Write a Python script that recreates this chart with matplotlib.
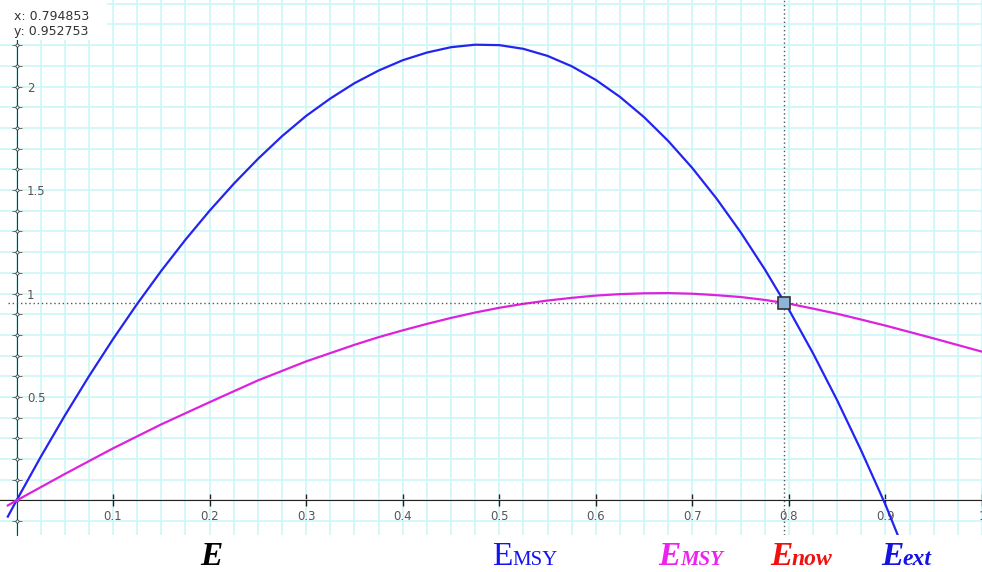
import matplotlib
matplotlib.use('Agg')
import matplotlib.pyplot as plt
import numpy as np
from matplotlib.patches import Rectangle
from matplotlib.ticker import MultipleLocator

# values
blue_x = [-0.009, 0, 0.025, 0.05, 0.075, 0.1, 0.125, 0.15, 0.175, 0.2, 0.225, 0.25,
          0.275, 0.3, 0.325, 0.35, 0.375, 0.4, 0.425, 0.45, 0.475, 0.5, 0.525, 0.55,
          0.575, 0.6, 0.625, 0.65, 0.675, 0.7, 0.725, 0.75, 0.775, 0.8, 0.825, 0.85,
          0.875, 0.9, 0.913]
blue_y = [-0.078, 0, 0.21, 0.41, 0.60, 0.78, 0.95, 1.11, 1.26, 1.40, 1.53, 1.65,
          1.76, 1.858, 1.942, 2.016, 2.077, 2.127, 2.164, 2.19, 2.202, 2.20, 2.182, 2.148,
          2.098, 2.032, 1.950, 1.852, 1.737, 1.606, 1.459, 1.296, 1.117, 0.922, 0.711, 0.484,
          0.240, -0.020, -0.17]

mag_x = [-0.009, 0, 0.05, 0.1, 0.15, 0.2, 0.25, 0.3, 0.35, 0.375, 0.4, 0.425, 0.45,
         0.475, 0.5, 0.525, 0.55, 0.575, 0.6, 0.625, 0.65, 0.675, 0.7, 0.725, 0.75,
         0.775, 0.8, 0.825, 0.85, 0.875, 0.9, 0.925, 0.95, 0.975, 1.0]
mag_y = [-0.024, 0, 0.128, 0.252, 0.368, 0.475, 0.58, 0.672, 0.752, 0.789, 0.822,
         0.853, 0.882, 0.908, 0.931, 0.95, 0.966, 0.979, 0.99, 0.997, 1.001, 1.002,
         0.999, 0.992, 0.983, 0.969, 0.951, 0.927, 0.902, 0.874, 0.845, 0.814, 0.783,
         0.751, 0.719]

cur_x = 0.794853
cur_y = 0.952753

x_ticks = [0.1, 0.2, 0.3, 0.4, 0.5, 0.6, 0.7, 0.8, 0.9, 1.0]
x_labels = ['0.1', '0.2', '0.3', '0.4', '0.5', '0.6', '0.7', '0.8', '0.9', '1']
y_ticks = [0.5, 1.0, 1.5, 2.0]
y_labels = ['0.5', '1', '1.5', '2']

W, H = 982, 572
fig = plt.figure(figsize=(W / 100, H / 100), dpi=100)
ax = fig.add_axes([0, 1 - 535 / H, 1, 535 / H])
ax.set_xlim(-0.0171, 1.0)
ax.set_ylim(-0.1667, 2.418)

# grid
ax.xaxis.set_minor_locator(MultipleLocator(0.025))
ax.yaxis.set_minor_locator(MultipleLocator(0.1))
ax.grid(True, which='both', color='#c8f7f7', lw=1.1, zorder=0)
ax.set_axisbelow(True)

# axes through the origin
for s in ['top', 'left']:
    ax.spines[s].set_visible(False)
ax.spines['bottom'].set_position(('data', 0))
ax.spines['bottom'].set_color('#222222')
ax.spines['right'].set_position(('data', 0))
ax.spines['right'].set_linestyle((0, (1, 1)))
ax.spines['right'].set_color('#333333')
ax.yaxis.set_ticks_position('right')

ax.set_xticks(x_ticks)
ax.set_xticklabels(x_labels)
ax.set_yticks(y_ticks)
ax.set_yticklabels(y_labels)
ax.tick_params(axis='x', which='major', direction='inout', length=8, width=1,
               color='#222222', labelsize=8.5, labelcolor='#555555', pad=3)
ax.tick_params(axis='x', which='minor', length=0)
ax.tick_params(axis='y', which='both', direction='inout', length=7, width=0.6,
               color='#555555', labelsize=8.5, labelcolor='#555555', pad=4)

ytick_all = np.arange(-0.1, 2.45, 0.1)
ax.plot(np.zeros_like(ytick_all), ytick_all, ls='none', marker='o', ms=2.2,
        mfc='white', mec='#444444', mew=0.6, zorder=3, clip_on=False)

# curves
ax.plot(blue_x, blue_y, color='#2424f0', lw=1.6, zorder=4)
ax.plot(mag_x, mag_y, color='#dd22dd', lw=1.6, zorder=4)

# crosshair
ax.axvline(cur_x, color='#555555', lw=1, ls=(0, (1, 2)), zorder=5)
ax.axhline(cur_y, xmin=0.008, color='#555555', lw=1, ls=(0, (1, 2)), zorder=5)
ax.plot([cur_x], [cur_y], marker='s', ms=8.5, mfc='#8fb4dc', mec='#333333',
        mew=1.2, zorder=6)

# coordinate readout
ax.add_patch(Rectangle((0, 1 - 40 / 535), 107 / W, 40 / 535, transform=ax.transAxes,
                       facecolor='white', edgecolor='none', zorder=6.5))
ax.text(14 / W, 1 - 16 / 535, 'x: 0.794853', transform=ax.transAxes, fontsize=9,
        color='#333333', va='center', ha='left', zorder=7)
ax.text(14 / W, 1 - 32 / 535, 'y: 0.952753', transform=ax.transAxes, fontsize=9,
        color='#333333', va='center', ha='left', zorder=7)


# labels under the chart
def ftext(x, y, s, **kw):
    fig.text(x / W, 1 - y / H, s, va='baseline', ha='left', family='Liberation Serif', **kw)


base = 565
ftext(200, base, 'E', fontsize=24, style='italic', weight='bold', color='black')
ftext(492, base, 'E', fontsize=24, color='#1414f0')
ftext(512, base, 'MSY', fontsize=15, color='#1414f0')
ftext(658, base, 'E', fontsize=24, style='italic', weight='bold', color='#ee22ee')
ftext(680, base, 'MSY', fontsize=15, style='italic', weight='bold', color='#ee22ee')
ftext(770, base, 'E', fontsize=24, style='italic', weight='bold', color='#f01010')
ftext(792, base, 'now', fontsize=17, style='italic', weight='bold', color='#f01010')
ftext(881, base, 'E', fontsize=24, style='italic', weight='bold', color='#1414e0')
ftext(902, base, 'ext', fontsize=17, style='italic', weight='bold', color='#1414e0')

fig.savefig('out.png', dpi=100)
